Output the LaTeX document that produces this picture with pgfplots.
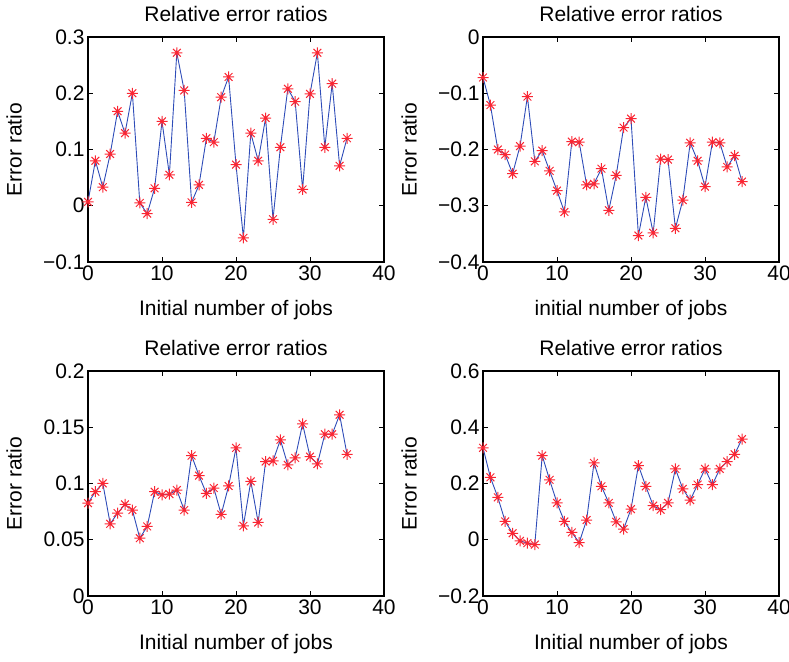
\documentclass[border=0pt]{standalone}
\usepackage{pgfplots}
\pgfplotsset{compat=1.18}
\usepackage{fontspec}
\setmainfont{Liberation Sans}
\definecolor{lineblue}{rgb}{0.18,0.30,0.72}
\definecolor{markred}{rgb}{0.98,0.15,0.20}
\pgfdeclareplotmark{mstar}{%
  \pgfpathmoveto{\pgfqpoint{-\pgfplotmarksize}{0pt}}%
  \pgfpathlineto{\pgfqpoint{\pgfplotmarksize}{0pt}}%
  \pgfpathmoveto{\pgfqpoint{0pt}{-\pgfplotmarksize}}%
  \pgfpathlineto{\pgfqpoint{0pt}{\pgfplotmarksize}}%
  \pgfpathmoveto{\pgfqpoint{-0.707\pgfplotmarksize}{-0.707\pgfplotmarksize}}%
  \pgfpathlineto{\pgfqpoint{0.707\pgfplotmarksize}{0.707\pgfplotmarksize}}%
  \pgfpathmoveto{\pgfqpoint{-0.707\pgfplotmarksize}{0.707\pgfplotmarksize}}%
  \pgfpathlineto{\pgfqpoint{0.707\pgfplotmarksize}{-0.707\pgfplotmarksize}}%
  \pgfusepathqstroke}
\pgfplotsset{
  every axis title/.style={at={(0.5,1)}, anchor=center, yshift=23pt,
    font=\fontsize{21}{25}\selectfont},
  every axis/.append style={
    scale only axis,
    width=296pt, height=225pt,
    xmin=0, xmax=40,
    xtick={0,10,20,30,40},
    font=\fontsize{21}{25}\selectfont,
    /pgf/number format/assume math mode=true,
    tick label style={font=\fontsize{21}{25}\selectfont},
    label style={font=\fontsize{21}{25}\selectfont},
    xlabel style={at={(0.5,-0.215)}, anchor=center},
    ylabel style={at={(-0.25,0.5)}, anchor=center},
    axis line style={line width=1.1pt},
    major tick length=5pt,
    tick style={line width=1pt, black},
    tick align=inside,
  },
  myplot/.style={color=lineblue, line width=0.9pt,
    mark=mstar, mark size=5.5pt,
    mark options={color=markred, line width=1pt}},
}
\begin{document}
\begin{tikzpicture}[x=1pt,y=1pt]
\useasboundingbox (0,0) rectangle (789,-661);
% Top left
\begin{axis}[at={(88pt,-262pt)}, anchor=south west,
  ymin=-0.1, ymax=0.3,
  ytick={-0.1,0,0.1,0.2,0.3},
  yticklabels={−0.1,0,0.1,0.2,0.3},
  title={Relative error ratios},
  xlabel={Initial number of jobs},
  ylabel={Error ratio}]
\addplot[myplot] coordinates {
(0,0.007)(1,0.080)(2,0.033)(3,0.092)(4,0.168)(5,0.129)(6,0.200)(7,0.005)
(8,-0.014)(9,0.031)(10,0.150)(11,0.055)(12,0.272)(13,0.205)(14,0.006)(15,0.037)
(16,0.120)(17,0.113)(18,0.193)(19,0.229)(20,0.073)(21,-0.057)(22,0.129)(23,0.080)
(24,0.156)(25,-0.024)(26,0.104)(27,0.208)(28,0.185)(29,0.029)(30,0.199)(31,0.272)
(32,0.104)(33,0.217)(34,0.071)(35,0.120)};
\end{axis}
% Top right
\begin{axis}[at={(483pt,-262pt)}, anchor=south west,
  ymin=-0.4, ymax=0,
  ytick={-0.4,-0.3,-0.2,-0.1,0},
  yticklabels={−0.4,−0.3,−0.2,−0.1,0},
  title={Relative error ratios},
  xlabel={initial number of jobs},
  ylabel={Error ratio}]
\addplot[myplot] coordinates {
(0,-0.072)(1,-0.121)(2,-0.200)(3,-0.209)(4,-0.243)(5,-0.194)(6,-0.106)(7,-0.221)
(8,-0.202)(9,-0.238)(10,-0.273)(11,-0.311)(12,-0.186)(13,-0.187)(14,-0.263)(15,-0.261)
(16,-0.234)(17,-0.308)(18,-0.246)(19,-0.161)(20,-0.145)(21,-0.353)(22,-0.285)(23,-0.348)
(24,-0.217)(25,-0.218)(26,-0.340)(27,-0.290)(28,-0.188)(29,-0.220)(30,-0.266)(31,-0.187)
(32,-0.188)(33,-0.231)(34,-0.211)(35,-0.257)};
\end{axis}
% Bottom left
\begin{axis}[at={(88pt,-596pt)}, anchor=south west,
  ymin=0, ymax=0.2,
  ytick={0,0.05,0.1,0.15,0.2},
  yticklabels={0,0.05,0.1,0.15,0.2},
  title={Relative error ratios},
  xlabel={Initial number of jobs},
  ylabel={Error ratio}]
\addplot[myplot] coordinates {
(0,0.0826)(1,0.0927)(2,0.1001)(3,0.0642)(4,0.0737)(5,0.0814)(6,0.0764)(7,0.0514)
(8,0.0618)(9,0.0927)(10,0.0900)(11,0.0906)(12,0.0942)(13,0.0764)(14,0.1248)(15,0.1070)
(16,0.0912)(17,0.0960)(18,0.0725)(19,0.0978)(20,0.1316)(21,0.0624)(22,0.1019)(23,0.0654)
(24,0.1195)(25,0.1201)(26,0.1388)(27,0.1165)(28,0.1227)(29,0.1530)(30,0.1239)(31,0.1174)
(32,0.1438)(33,0.1438)(34,0.1611)(35,0.1260)};
\end{axis}
% Bottom right
\begin{axis}[at={(483pt,-596pt)}, anchor=south west,
  ymin=-0.2, ymax=0.6,
  ytick={-0.2,0,0.2,0.4,0.6},
  yticklabels={−0.2,0,0.2,0.4,0.6},
  title={Relative error ratios},
  xlabel={Initial number of jobs},
  ylabel={Error ratio}]
\addplot[myplot] coordinates {
(0,0.327)(1,0.222)(2,0.151)(3,0.065)(4,0.023)(5,-0.004)(6,-0.012)(7,-0.017)
(8,0.299)(9,0.213)(10,0.131)(11,0.065)(12,0.026)(13,-0.010)(14,0.070)(15,0.273)
(16,0.190)(17,0.131)(18,0.064)(19,0.038)(20,0.109)(21,0.264)(22,0.190)(23,0.121)
(24,0.107)(25,0.131)(26,0.252)(27,0.181)(28,0.141)(29,0.196)(30,0.252)(31,0.196)
(32,0.252)(33,0.278)(34,0.304)(35,0.358)};
\end{axis}
\end{tikzpicture}
\end{document}
